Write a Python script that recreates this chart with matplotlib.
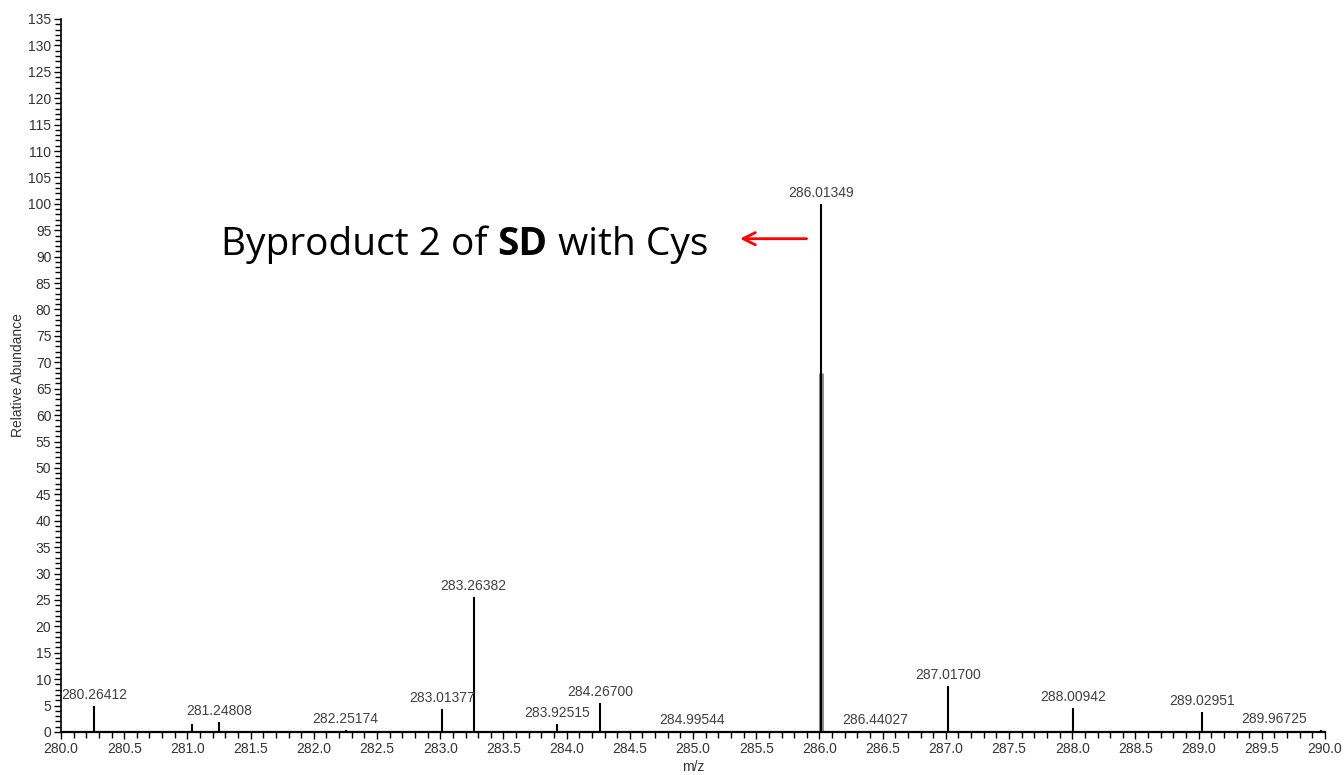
import numpy as np
import matplotlib.pyplot as plt
from matplotlib.ticker import MultipleLocator

# centroid peaks (m/z, relative abundance)
mz = [280.26412, 281.04, 281.24808, 282.25174, 283.01377, 283.26382,
      283.92515, 284.26700, 284.99544, 286.01349, 286.44027, 287.01700,
      288.00942, 289.02951, 289.96725]
abundance = [4.9, 1.6, 1.8, 0.3, 4.3, 25.5,
             1.5, 5.5, 0.15, 100.0, 0.2, 8.7,
             4.5, 3.8, 0.3]
labelled = [True, False, True, True, True, True,
            True, True, True, True, True, True,
            True, True, True]

# broadened lower part of the base peak
shoulder_mz = [286.01349]
shoulder_abundance = [68.0]

plt.rcParams['font.family'] = ['Liberation Sans', 'DejaVu Sans']

fig = plt.figure(figsize=(13.44, 7.75), dpi=100)
ax = fig.add_axes([0.0454, 0.0555, 0.9405, 0.92])

ax.vlines(shoulder_mz, 0, shoulder_abundance, color='#8a8a8a', lw=3.5)
ax.vlines(mz, 0, abundance, color='black', lw=1.5)

for x, y, show in zip(mz, abundance, labelled):
    if not show:
        continue
    dx = -34 if x > 289.9 else 0
    ax.annotate(f'{x:.5f}', (x, y), xytext=(dx, 3), textcoords='offset points',
                ha='center', va='bottom', fontsize=10, color='#404040')

ax.set_xlim(280.0, 290.0)
ax.set_ylim(0, 135)
ax.xaxis.set_major_locator(MultipleLocator(0.5))
ax.xaxis.set_minor_locator(MultipleLocator(0.1))
ax.yaxis.set_major_locator(MultipleLocator(5))
ax.yaxis.set_minor_locator(MultipleLocator(1))
ax.xaxis.set_major_formatter(plt.FormatStrFormatter('%.1f'))
ax.tick_params(axis='both', which='both', direction='out', labelsize=10,
               labelcolor='#333333', width=1.0, pad=2)
ax.tick_params(axis='both', which='major', length=5)
ax.tick_params(axis='both', which='minor', length=4)
for s in ['top', 'right']:
    ax.spines[s].set_visible(False)
ax.spines['left'].set_linewidth(1.2)
ax.spines['bottom'].set_linewidth(1.6)

ax.set_xlabel('m/z', fontsize=10, color='#333333', labelpad=3)
ax.set_ylabel('Relative Abundance', fontsize=10, color='#333333', labelpad=2)

ann_font = ['Open Sans', 'DejaVu Sans']
ann_y = 90.3
ax.text(281.266, ann_y, 'Byproduct 2 of ', fontsize=28, family=ann_font,
        ha='left', va='baseline', color='black')
fig.canvas.draw()
bb = ax.texts[-1].get_window_extent()
x_end = ax.transData.inverted().transform((bb.x1, bb.y0))[0]
ax.text(x_end, ann_y, 'SD', fontsize=28, family=ann_font,
        fontweight='bold', ha='left', va='baseline', color='black')
fig.canvas.draw()
bb = ax.texts[-1].get_window_extent()
x_end = ax.transData.inverted().transform((bb.x1, bb.y0))[0]
ax.text(x_end, ann_y, ' with Cys', fontsize=28, family=ann_font,
        ha='left', va='baseline', color='black')

ax.annotate('', xy=(285.35, 93.4), xytext=(285.92, 93.4),
            arrowprops=dict(arrowstyle='->', color='red', lw=2, mutation_scale=22))

fig.savefig('out.png', dpi=100)
